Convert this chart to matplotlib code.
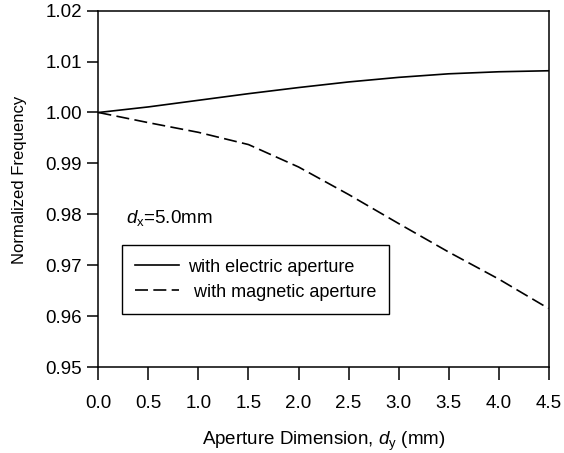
"""Normalized resonant frequency versus aperture dimension."""
import matplotlib.pyplot as plt

# aperture dimension d_y (mm)
dy = [0.0, 0.5, 1.0, 1.5, 2.0, 2.5, 3.0, 3.5, 4.0, 4.5]
# normalized frequency, electric aperture
f_electric = [1.0000, 1.0011, 1.0024, 1.0037, 1.0049, 1.0060, 1.0069, 1.0076, 1.0080, 1.0082]
# normalized frequency, magnetic aperture
f_magnetic = [1.0000, 0.9980, 0.9961, 0.9937, 0.9893, 0.9839, 0.9782, 0.9726, 0.9673, 0.9615]

xticks = [0.0, 0.5, 1.0, 1.5, 2.0, 2.5, 3.0, 3.5, 4.0, 4.5]
yticks = [0.95, 0.96, 0.97, 0.98, 0.99, 1.00, 1.01, 1.02]


def setup_plt() -> None:
    """Configure matplotlib plot formatting."""
    plt.rcParams["font.family"] = ["Liberation Sans", "DejaVu Sans"]
    plt.rcParams["mathtext.fontset"] = "custom"
    plt.rcParams["mathtext.rm"] = "Liberation Sans"
    plt.rcParams["mathtext.it"] = "Liberation Sans:italic"
    plt.rcParams["axes.linewidth"] = 1.1


def main() -> None:
    setup_plt()
    fig = plt.figure(figsize=(5.64, 4.53), dpi=100)
    ax = fig.add_axes([0.1746, 0.1898, 0.798, 0.7866])

    ax.plot(dy, f_electric, color="black", lw=1.2, label="with electric aperture")
    ax.plot(dy, f_magnetic, color="black", lw=1.2, dashes=(7.8, 3.2),
            label=" with magnetic aperture")

    ax.set_xlim(0, 4.5)
    ax.set_ylim(0.95, 1.02)
    ax.set_xticks(xticks)
    ax.set_xticklabels([f"{v:.1f}" for v in xticks])
    ax.set_yticks(yticks)
    ax.set_yticklabels([f"{v:.2f}" for v in yticks])
    ax.tick_params(axis="x", direction="out", length=9, width=1.1, pad=11, labelsize=13.5)
    ax.tick_params(axis="y", direction="out", length=8, width=1.1, pad=4, labelsize=13.5)

    ax.set_xlabel("Aperture Dimension, $d_{\\mathrm{y}}$ (mm)", fontsize=13.5, labelpad=13)
    ax.set_ylabel("Normalized Frequency", fontsize=12)
    ax.yaxis.set_label_coords(-0.158, 0.525)

    ax.text(0.28, 0.9793, "$d_{\\mathrm{x}}$=5.0mm", fontsize=13.5, va="center", ha="left")

    leg = ax.legend(loc="upper left", bbox_to_anchor=(0.0516, 0.3424), fontsize=13,
                    frameon=True, fancybox=False, framealpha=1, edgecolor="black",
                    handlelength=2.4, handletextpad=0.55, borderpad=0.75,
                    labelspacing=0.45, borderaxespad=0)
    leg.get_frame().set_linewidth(1.0)

    fig.savefig("out.png", dpi=100)


if __name__ == "__main__":
    main()
